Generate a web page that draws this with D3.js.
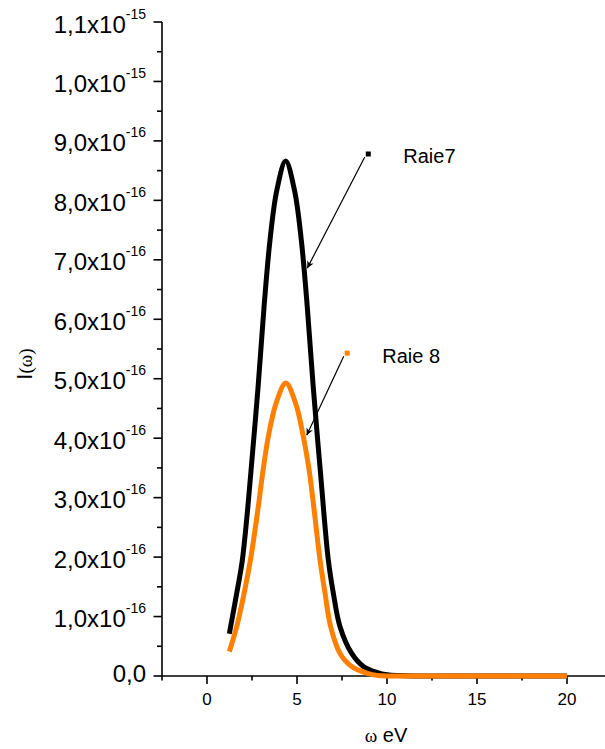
<!DOCTYPE html>
<html>
<head>
<meta charset="utf-8">
<script src="https://cdn.jsdelivr.net/npm/d3@7"></script>
<style>
  body { margin: 0; background: #fff; }
  svg text { font-family: "Liberation Sans", Arial, sans-serif; fill: #000; }
</style>
</head>
<body>
<div id="chart"></div>
<script>
// valores (I en unidades de 1e-16)
const omega7 = [1.24, 1.65, 1.95, 2.2, 2.43, 2.84, 3.17, 3.5, 3.88, 4.37, 4.86, 5.24, 5.57, 5.9, 6.31, 6.74, 7.02, 7.39, 8.04, 8.69, 9.43, 10, 12, 15, 20];
const raie7  = [0.71, 1.39, 1.92, 2.62, 3.4, 4.87, 6.21, 7.33, 8.17, 8.66, 8.17, 7.33, 6.21, 4.87, 3.4, 1.95, 1.39, 0.83, 0.38, 0.16, 0.06, 0.02, 0, 0, 0];
const omega8 = [1.24, 1.65, 2.02, 2.43, 2.85, 3.12, 3.41, 3.84, 4.38, 4.92, 5.35, 5.67, 5.91, 6.28, 6.56, 6.87, 7.39, 8.04, 8.87, 9.5, 12, 20];
const raie8  = [0.41, 0.83, 1.33, 1.98, 2.85, 3.47, 4.03, 4.59, 4.93, 4.59, 4.03, 3.47, 2.9, 1.95, 1.39, 0.83, 0.38, 0.16, 0.05, 0.01, 0, 0];

const xTicks = [0, 5, 10, 15, 20];
const yTicks = [0, 1, 2, 3, 4, 5, 6, 7, 8, 9, 10, 11];
const yTickMant = ["0,0", "1,0x10", "2,0x10", "3,0x10", "4,0x10", "5,0x10", "6,0x10", "7,0x10", "8,0x10", "9,0x10", "1,0x10", "1,1x10"];
const yTickExp  = ["", "-16", "-16", "-16", "-16", "-16", "-16", "-16", "-16", "-16", "-15", "-15"];

// anotaciones: etiqueta, marcador y punta de flecha (coords de datos)
const annLabels = ["Raie7", "Raie 8"];
const annMarkX = [8.96, 7.79];
const annMarkY = [8.78, 5.43];
const annTipX  = [5.57, 5.54];
const annTipY  = [6.86, 4.05];

const SVG_WIDTH = 605;
const SVG_HEIGHT = 749;
const COLORS = ["#000000", "#FF8000"];

const svg = d3.select("#chart").append("svg")
  .attr("width", SVG_WIDTH).attr("height", SVG_HEIGHT);

const x = d3.scaleLinear().domain([-2.5, 22.5]).range([162, 612]);
const y = d3.scaleLinear().domain([0, 11]).range([676, 22]);

// ejes
const xAxis = svg.append("g");
xAxis.append("line")
  .attr("x1", x(-2.5)).attr("x2", SVG_WIDTH)
  .attr("y1", y(0)).attr("y2", y(0))
  .attr("stroke", "#000").attr("stroke-width", 1.6);
xAxis.selectAll("line.minor")
  .data(d3.range(-2.5, 22.6, 2.5))
  .join("line")
  .attr("class", "minor")
  .attr("x1", d => x(d)).attr("x2", d => x(d))
  .attr("y1", y(0)).attr("y2", d => y(0) + (d % 5 === 0 ? 8 : 4.5))
  .attr("stroke", "#000").attr("stroke-width", 1.6);
xAxis.selectAll("text")
  .data(xTicks)
  .join("text")
  .attr("x", d => x(d)).attr("y", 705)
  .attr("text-anchor", "middle")
  .style("font-size", "17px")
  .text(d => d);

const yAxis = svg.append("g");
yAxis.append("line")
  .attr("x1", x(-2.5)).attr("x2", x(-2.5))
  .attr("y1", y(0)).attr("y2", y(11))
  .attr("stroke", "#000").attr("stroke-width", 1.6);
yAxis.selectAll("line.tick")
  .data(d3.range(0, 11.01, 0.5))
  .join("line")
  .attr("class", "tick")
  .attr("x1", x(-2.5)).attr("x2", d => x(-2.5) - (d % 1 === 0 ? 8.5 : 5))
  .attr("y1", d => y(d)).attr("y2", d => y(d))
  .attr("stroke", "#000").attr("stroke-width", 1.6);
const yLab = yAxis.selectAll("text")
  .data(yTicks)
  .join("text")
  .attr("x", 146)
  .attr("y", (d, i) => y(d) + (yTickExp[i] ? 10.5 : 6))
  .attr("text-anchor", "end")
  .style("font-size", "24px");
yLab.append("tspan").text((d, i) => yTickMant[i]);
yLab.filter((d, i) => yTickExp[i] !== "")
  .append("tspan")
  .attr("dy", -14)
  .style("font-size", "14px")
  .text((d) => yTickExp[yTicks.indexOf(d)]);

// titulos
const xTitle = svg.append("text")
  .attr("x", 386).attr("y", 742)
  .attr("text-anchor", "middle");
xTitle.append("tspan").style("font-family", "'Liberation Serif', serif").style("font-size", "19px").text("ω");
xTitle.append("tspan").style("font-size", "20px").text(" eV");

const yTitle = svg.append("text")
  .attr("transform", "translate(32,364) rotate(-90)")
  .attr("text-anchor", "middle");
yTitle.append("tspan").style("font-size", "22px").text("I");
yTitle.append("tspan").style("font-family", "'Liberation Serif', serif").style("font-size", "19px").text("(ω)");

// curvas
const line = d3.line()
  .x(d => x(d[0]))
  .y(d => y(Math.max(0, d[1])))
  .curve(d3.curveCatmullRom.alpha(0.5));

const series = [d3.zip(omega7, raie7), d3.zip(omega8, raie8)];
svg.append("g")
  .selectAll("path")
  .data(series)
  .join("path")
  .attr("d", line)
  .attr("fill", "none")
  .attr("stroke", (d, i) => COLORS[i])
  .attr("stroke-width", 5);

// flechas
svg.append("defs").append("marker")
  .attr("id", "arrow")
  .attr("viewBox", "0 0 10 10")
  .attr("refX", 10).attr("refY", 5)
  .attr("markerWidth", 9).attr("markerHeight", 7)
  .attr("markerUnits", "userSpaceOnUse")
  .attr("orient", "auto")
  .append("path")
  .attr("d", "M0,0 L10,5 L0,10 L3,5 Z")
  .attr("fill", "#000");

const ann = svg.append("g").selectAll("g")
  .data(annLabels)
  .join("g");
ann.append("line")
  .attr("x1", (d, i) => x(annMarkX[i]) - 3.5)
  .attr("y1", (d, i) => y(annMarkY[i]) + 3)
  .attr("x2", (d, i) => x(annTipX[i]))
  .attr("y2", (d, i) => y(annTipY[i]))
  .attr("stroke", "#000").attr("stroke-width", 1.2)
  .attr("marker-end", "url(#arrow)");
ann.append("rect")
  .attr("x", (d, i) => x(annMarkX[i]) - 2.5)
  .attr("y", (d, i) => y(annMarkY[i]) - 2.5)
  .attr("width", 5).attr("height", 5)
  .attr("fill", (d, i) => COLORS[i]);
ann.append("text")
  .attr("x", (d, i) => x(annMarkX[i]) + 35)
  .attr("y", (d, i) => y(annMarkY[i]) + 9.5)
  .style("font-size", "20px")
  .text(d => d);
</script>
</body>
</html>
